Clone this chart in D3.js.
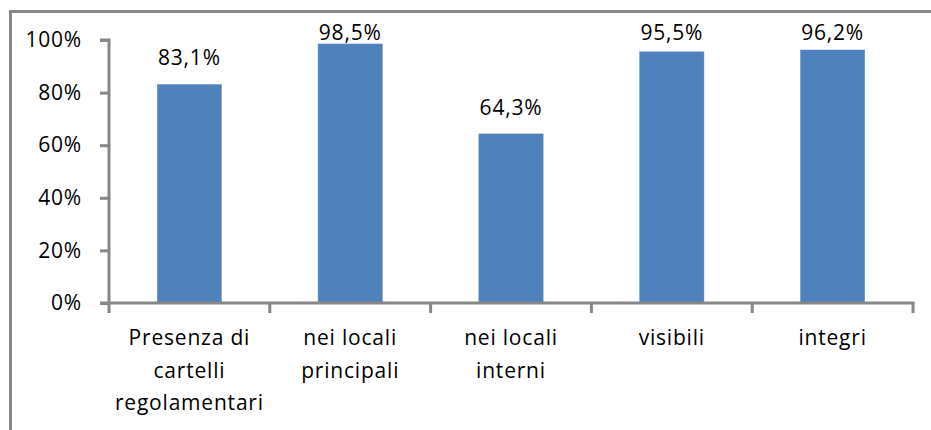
<!DOCTYPE html>
<html><head><meta charset="utf-8">
<script src="https://cdn.jsdelivr.net/npm/d3@7"></script>
<style>body{margin:0;background:#fff;} svg{display:block;} text{letter-spacing:0.8px;}</style>
</head><body>
<script>
const categories = [["Presenza di","cartelli","regolamentari"],["nei locali","principali"],["nei locali","interni"],["visibili"],["integri"]];
const values = [83.1, 98.5, 64.3, 95.5, 96.2];
const valueLabels = ["83,1%","98,5%","64,3%","95,5%","96,2%"];
const yTicks = [0,20,40,60,80,100];

const W=931,H=430;
const svg=d3.select("body").append("svg").attr("width",W).attr("height",H);
const font="'Open Sans', sans-serif";
const grey="#878787";

// frame
svg.append("path").attr("d",`M10.5,${H} V11.5 H${W}`).attr("fill","none").attr("stroke",grey).attr("stroke-width",3);

const x=d3.scaleBand().domain(d3.range(values.length)).range([109,913]).paddingInner(0.6).paddingOuter(0.3);
const xOuter=d3.scaleBand().domain(d3.range(values.length)).range([109,913]);
const y=d3.scaleLinear().domain([0,100]).range([303,40]);

// bars
svg.selectAll("rect.bar").data(values).enter().append("rect")
  .attr("x",(d,i)=>x(i)).attr("width",x.bandwidth())
  .attr("y",d=>y(d)).attr("height",d=>y(0)-y(d))
  .attr("fill","#4F81BD").attr("stroke","#6a95c9").attr("stroke-width",0.5);

// value labels (kept inside the chart frame, as the original does)
svg.selectAll("text.val").data(values).enter().append("text")
  .attr("x",(d,i)=>x(i)+x.bandwidth()/2).attr("y",d=>Math.max(y(d)-19, 40))
  .attr("text-anchor","middle").attr("font-family",font).attr("font-size",21).attr("fill","#000")
  .text((d,i)=>valueLabels[i]);

// y axis
const yAxis=d3.axisLeft(y).tickValues(yTicks).tickFormat(d=>d+"%").tickSize(9).tickPadding(18);
const gy=svg.append("g").attr("transform","translate(109,0)").call(yAxis);
gy.select(".domain").attr("stroke",grey).attr("stroke-width",3).attr("d","M-9,40H0V303H-9");
gy.selectAll(".tick line").attr("stroke",grey).attr("stroke-width",3);
gy.selectAll(".tick text").attr("font-family",font).attr("font-size",21).attr("fill","#000");

// x axis
const gx=svg.append("g").attr("transform","translate(0,303)");
gx.append("line").attr("x1",107.5).attr("x2",914.5).attr("y1",0).attr("y2",0).attr("stroke",grey).attr("stroke-width",3);
const bounds=d3.range(values.length).map(i=>xOuter(i)).concat([913]);
gx.selectAll("line.tk").data(bounds).enter().append("line")
  .attr("x1",d=>d).attr("x2",d=>d).attr("y1",0).attr("y2",10).attr("stroke",grey).attr("stroke-width",3);

// category labels
categories.forEach((lines,i)=>{
  const t=svg.append("text").attr("text-anchor","middle").attr("font-family",font).attr("font-size",21).attr("fill","#000");
  lines.forEach((l,j)=>{
    t.append("tspan").attr("x",xOuter(i)+xOuter.bandwidth()/2).attr("y",345+j*32.5).text(l);
  });
});
</script>
</body></html>
